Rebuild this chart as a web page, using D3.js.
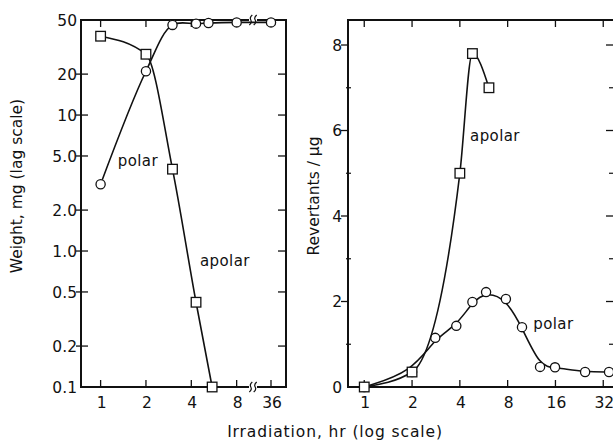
<!DOCTYPE html>
<html>
<head>
<meta charset="utf-8">
<script src="https://cdn.jsdelivr.net/npm/d3@7"></script>
<style>
  body { margin: 0; background: #fff; }
  text { font-family: "DejaVu Sans", sans-serif; fill: #111; }
</style>
</head>
<body>
<svg id="chart" width="613" height="441"></svg>
<script>
// left panel: weight (log scale)
let weightTicks = [50, 20, 10, 5, 2, 1, 0.5, 0.2, 0.1];
let weightTickLabels = ["50", "20", "10", "5.0", "2.0", "1.0", "0.5", "0.2", "0.1"];
let leftHourTicks = [1, 2, 4, 8, 36];
let apolarWeightHours = [1, 2, 3, 4.3, 5.5];
let apolarWeight = [38, 28, 4.0, 0.42, 0.1];
let polarWeightHours = [1, 2, 3, 4.3, 5.2, 8, 36];
let polarWeight = [3.1, 21, 46, 47, 47.5, 48, 48];

// right panel: revertants / ug
let revTicks = [0, 2, 4, 6, 8];
let revMinorTicks = [1, 3, 5, 7];
let rightHourTicks = [1, 2, 4, 8, 16, 32];
let apolarRevHours = [1, 2, 4, 4.8, 6.1];
let apolarRev = [0, 0.35, 5.0, 7.8, 7.0];
let polarRevHours = [1, 2, 2.8, 3.8, 4.8, 5.85, 7.8, 9.85, 12.8, 15.9, 24.6, 34.8];
let polarRev = [0, 0.35, 1.15, 1.43, 1.99, 2.22, 2.06, 1.40, 0.47, 0.46, 0.35, 0.35];

let svg = d3.select('#chart');

let yTop = 20, yBottom = 387;
let leftBox = {l: 81, r: 286};
let rightBox = {l: 348, r: 614};

// piecewise log scale with a break between 8 and 36
let xL = d3.scaleLog().base(2)
    .domain([0.741, 10.27, 36, 45])
    .range([leftBox.l, 253, 271, leftBox.r]);
let yL = d3.scaleLog().domain([0.1, 50]).range([yBottom, yTop]);

let xR = d3.scaleLog().base(2).domain([0.79, 37.4]).range([rightBox.l, rightBox.r]);
let yR = d3.scaleLinear().domain([0, 8.585]).range([yBottom, yTop]);

svg.append('clipPath').attr('id', 'clipL').append('rect')
    .attr('x', leftBox.l - 6).attr('y', yTop).attr('width', leftBox.r - leftBox.l + 12).attr('height', yBottom - yTop + 6);

function frame(box) {
    svg.append('rect')
        .attr('x', box.l).attr('y', yTop)
        .attr('width', box.r - box.l).attr('height', yBottom - yTop)
        .attr('fill', 'none').attr('stroke', '#111').attr('stroke-width', 2);
}

frame(leftBox);
frame(rightBox);

// ---- left panel axes
let gL = svg.append('g');
weightTicks.forEach(function(v, i) {
    let y = yL(v);
    if (v !== 50 && v !== 0.1) {
        gL.append('line').attr('x1', leftBox.l - 5).attr('x2', leftBox.l + 7)
            .attr('y1', y).attr('y2', y).attr('stroke', '#111').attr('stroke-width', 1.3);
        gL.append('line').attr('x1', leftBox.r - 8).attr('x2', leftBox.r)
            .attr('y1', y).attr('y2', y).attr('stroke', '#111').attr('stroke-width', 1.3);
    }
    gL.append('text').attr('x', 77).attr('y', y).attr('dy', '0.36em')
        .attr('text-anchor', 'end').attr('font-size', 15.5).text(weightTickLabels[i]);
});
leftHourTicks.forEach(function(h) {
    let x = xL(h);
    gL.append('line').attr('x1', x).attr('x2', x).attr('y1', yBottom).attr('y2', yBottom - 7)
        .attr('stroke', '#111').attr('stroke-width', 1.3);
    gL.append('line').attr('x1', x).attr('x2', x).attr('y1', yTop).attr('y2', yTop + 7)
        .attr('stroke', '#111').attr('stroke-width', 1.3);
    gL.append('text').attr('x', x + 1).attr('y', 408).attr('text-anchor', 'middle')
        .attr('font-size', 15.5).text(h);
});

// axis break marks
[yTop, yBottom].forEach(function(y) {
    let xb = 253;
    gL.append('rect').attr('x', xb - 4).attr('y', y - 2).attr('width', 8).attr('height', 4).attr('fill', '#fff');
    [-2.2, 2.2].forEach(function(dx) {
        gL.append('path')
            .attr('d', 'M' + (xb + dx - 1.5) + ',' + (y + 5) + ' q 3,-2.5 1.5,-5 q -1.5,-2.5 1.5,-5')
            .attr('fill', 'none').attr('stroke', '#111').attr('stroke-width', 1.2);
    });
});

// ---- right panel axes
let gR = svg.append('g');
revTicks.forEach(function(v) {
    let y = yR(v);
    if (v > 0) {
        gR.append('line').attr('x1', rightBox.l - 7).attr('x2', rightBox.l)
            .attr('y1', y).attr('y2', y).attr('stroke', '#111').attr('stroke-width', 1.3);
        gR.append('line').attr('x1', rightBox.r - 8).attr('x2', rightBox.r)
            .attr('y1', y).attr('y2', y).attr('stroke', '#111').attr('stroke-width', 1.3);
    }
    gR.append('text').attr('x', 342).attr('y', y).attr('dy', '0.36em')
        .attr('text-anchor', 'end').attr('font-size', 15.5).text(v);
});
revMinorTicks.forEach(function(v) {
    let y = yR(v);
    gR.append('line').attr('x1', rightBox.l - 2).attr('x2', rightBox.l + 3)
        .attr('y1', y).attr('y2', y).attr('stroke', '#111').attr('stroke-width', 1.2);
    gR.append('line').attr('x1', rightBox.r - 5).attr('x2', rightBox.r)
        .attr('y1', y).attr('y2', y).attr('stroke', '#111').attr('stroke-width', 1.2);
});
rightHourTicks.forEach(function(h) {
    let x = xR(h);
    gR.append('line').attr('x1', x).attr('x2', x).attr('y1', yBottom).attr('y2', yBottom - 7)
        .attr('stroke', '#111').attr('stroke-width', 1.3);
    gR.append('line').attr('x1', x).attr('x2', x).attr('y1', yTop).attr('y2', yTop + 7)
        .attr('stroke', '#111').attr('stroke-width', 1.3);
    gR.append('text').attr('x', x + 1).attr('y', 408).attr('text-anchor', 'middle')
        .attr('font-size', 15.5).text(h);
});

// ---- titles
svg.append('text').attr('transform', 'translate(22,186) rotate(-90)')
    .attr('text-anchor', 'middle').attr('font-size', 15.5).text('Weight, mg (lag scale)');
svg.append('text').attr('transform', 'translate(319,196) rotate(-90)')
    .attr('text-anchor', 'middle').attr('font-size', 15.5).text('Revertants / \u03bcg');
svg.append('text').attr('x', 335).attr('y', 437)
    .attr('text-anchor', 'middle').attr('font-size', 15.5).attr('letter-spacing', 0.9)
    .text('Irradiation, hr (log scale)');

// ---- series
function zip(a, b) { return a.map(function(d, i) { return [d, b[i]]; }); }

function drawSeries(pts, xs, ys, curve, shape, clip) {
    let line = d3.line().x(d => xs(d[0])).y(d => ys(d[1])).curve(curve);
    let path = svg.append('path').datum(pts).attr('d', line)
        .attr('fill', 'none').attr('stroke', '#111').attr('stroke-width', 1.6);
    if (clip) path.attr('clip-path', 'url(#' + clip + ')');
    if (shape === 'circle') {
        svg.append('g').selectAll('circle').data(pts).enter().append('circle')
            .attr('cx', d => xs(d[0])).attr('cy', d => ys(d[1])).attr('r', 4.6)
            .attr('fill', '#fff').attr('stroke', '#111').attr('stroke-width', 1.3);
    } else {
        svg.append('g').selectAll('rect').data(pts).enter().append('rect')
            .attr('x', d => xs(d[0]) - 4.8).attr('y', d => ys(d[1]) - 4.8)
            .attr('width', 9.6).attr('height', 9.6)
            .attr('fill', '#fff').attr('stroke', '#111').attr('stroke-width', 1.3);
    }
}

drawSeries(zip(polarWeightHours, polarWeight), xL, yL, d3.curveCatmullRom, 'circle', 'clipL');
drawSeries(zip(apolarWeightHours, apolarWeight), xL, yL, d3.curveMonotoneX, 'square');
drawSeries(zip(polarRevHours, polarRev), xR, yR, d3.curveBasis, 'circle');
drawSeries(zip(apolarRevHours, apolarRev), xR, yR, d3.curveMonotoneX, 'square');

// ---- series labels
let labels = [
    {t: 'polar', x: xL(1.3), y: yL(4.2)},
    {t: 'apolar', x: xL(4.57), y: yL(0.78)},
    {t: 'apolar', x: xR(4.64), y: yR(5.75)},
    {t: 'polar', x: xR(11.6), y: yR(1.35)}
];
labels.forEach(function(l) {
    svg.append('text').attr('x', l.x).attr('y', l.y).attr('font-size', 15)
        .attr('letter-spacing', 0.4).text(l.t);
});
</script>
</body>
</html>
